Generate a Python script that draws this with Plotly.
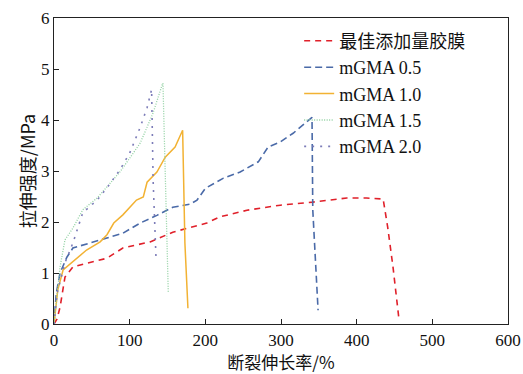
import plotly.graph_objects as go

names = ["最佳添加量胶膜", "mGMA 0.5", "mGMA 1.0", "mGMA 1.5", "mGMA 2.0"]

red_x = [0, 4, 8, 14.5, 25, 45, 70, 91, 127, 157, 176, 202, 219, 255, 299, 342, 387, 413, 435, 441, 448, 456]
red_y = [0, 0.1, 0.33, 0.92, 1.12, 1.2, 1.29, 1.49, 1.61, 1.80, 1.88, 1.98, 2.10, 2.23, 2.33, 2.39, 2.47, 2.47, 2.45, 1.9, 1.12, 0.08]

blue_x = [0, 3, 8, 17, 25, 48, 70, 91, 114, 136, 157, 180, 189, 200, 224, 246, 270, 283, 299, 316, 341, 342, 349]
blue_y = [0, 0.6, 1.0, 1.31, 1.49, 1.59, 1.69, 1.78, 1.98, 2.13, 2.29, 2.35, 2.43, 2.66, 2.86, 2.98, 3.18, 3.47, 3.57, 3.74, 4.05, 2.24, 0.27]

yel_x = [0, 5, 12, 25, 43, 61, 70, 79, 91, 109, 118, 123, 136, 147, 160, 170, 173, 177]
yel_y = [0, 0.67, 1.06, 1.22, 1.45, 1.61, 1.75, 1.98, 2.14, 2.43, 2.49, 2.78, 2.98, 3.27, 3.47, 3.80, 1.59, 0.31]

grn_x = [0, 4, 8, 14.5, 25, 38, 57, 70, 87, 100, 114, 123, 131, 143, 144, 151]
grn_y = [0, 0.6, 1.12, 1.65, 1.88, 2.24, 2.47, 2.69, 2.98, 3.25, 3.55, 3.86, 4.14, 4.69, 4.72, 0.63]

pur_x = [0, 4, 14.5, 25, 38, 57, 70, 87, 100, 114, 123, 129, 131, 135]
pur_y = [0, 0.6, 1.2, 1.59, 2.18, 2.43, 2.67, 3.02, 3.35, 3.86, 4.24, 4.60, 2.82, 1.22]

xticks = [0, 100, 200, 300, 400, 500, 600]
yticks = [0, 1, 2, 3, 4, 5, 6]

series = [
    (red_x, red_y, "#e0202a", "6px,5px", 1.6),
    (blue_x, blue_y, "#4a6aa8", "7px,4px", 1.6),
    (yel_x, yel_y, "#f2b233", "solid", 1.5),
    (grn_x, grn_y, "#8fd0a0", "1px,1.5px", 1.3),
    (pur_x, pur_y, "#7c7cb8", "2px,6px", 1.6),
]

fig = go.Figure()
for (xs, ys, c, d, w), n in zip(series, names):
    fig.add_trace(go.Scatter(x=xs, y=ys, mode="lines", name=n,
                             line=dict(color=c, dash=d, width=w)))

font_main = "Liberation Serif, Noto Sans CJK SC, serif"
axis_common = dict(showgrid=False, zeroline=False, showline=True, linecolor="#222",
                   linewidth=1.2, mirror=True, ticks="inside", ticklen=5, automargin=False,
                   tickcolor="#222", tickfont=dict(size=17, color="#111", family=font_main))
fig.update_layout(
    width=523, height=374,
    margin=dict(l=54, r=15, t=18, b=50),
    paper_bgcolor="white", plot_bgcolor="white",
    font=dict(family=font_main, color="#111"),
    showlegend=True,
    legend=dict(x=0.54, y=0.985, xanchor="left", yanchor="top",
                bgcolor="rgba(0,0,0,0)", font=dict(size=18, family=font_main),
                tracegroupgap=0, itemwidth=30),
    xaxis=dict(range=[0, 600], tickvals=xticks, ticklabelstandoff=0,
               title=dict(text="断裂伸长率/%", standoff=0,
                          font=dict(size=17, family="Noto Sans CJK SC, Liberation Serif")),
               **axis_common),
    yaxis=dict(range=[0, 6], tickvals=yticks, ticklabelstandoff=0,
               title=dict(text="拉伸强度/MPa", standoff=0,
                          font=dict(size=18, family="Noto Sans CJK SC, Liberation Serif")),
               **axis_common),
)
fig.write_html("out.html", config={"displayModeBar": False},
               post_script="document.body.style.margin='0';document.body.style.overflow='hidden';")
